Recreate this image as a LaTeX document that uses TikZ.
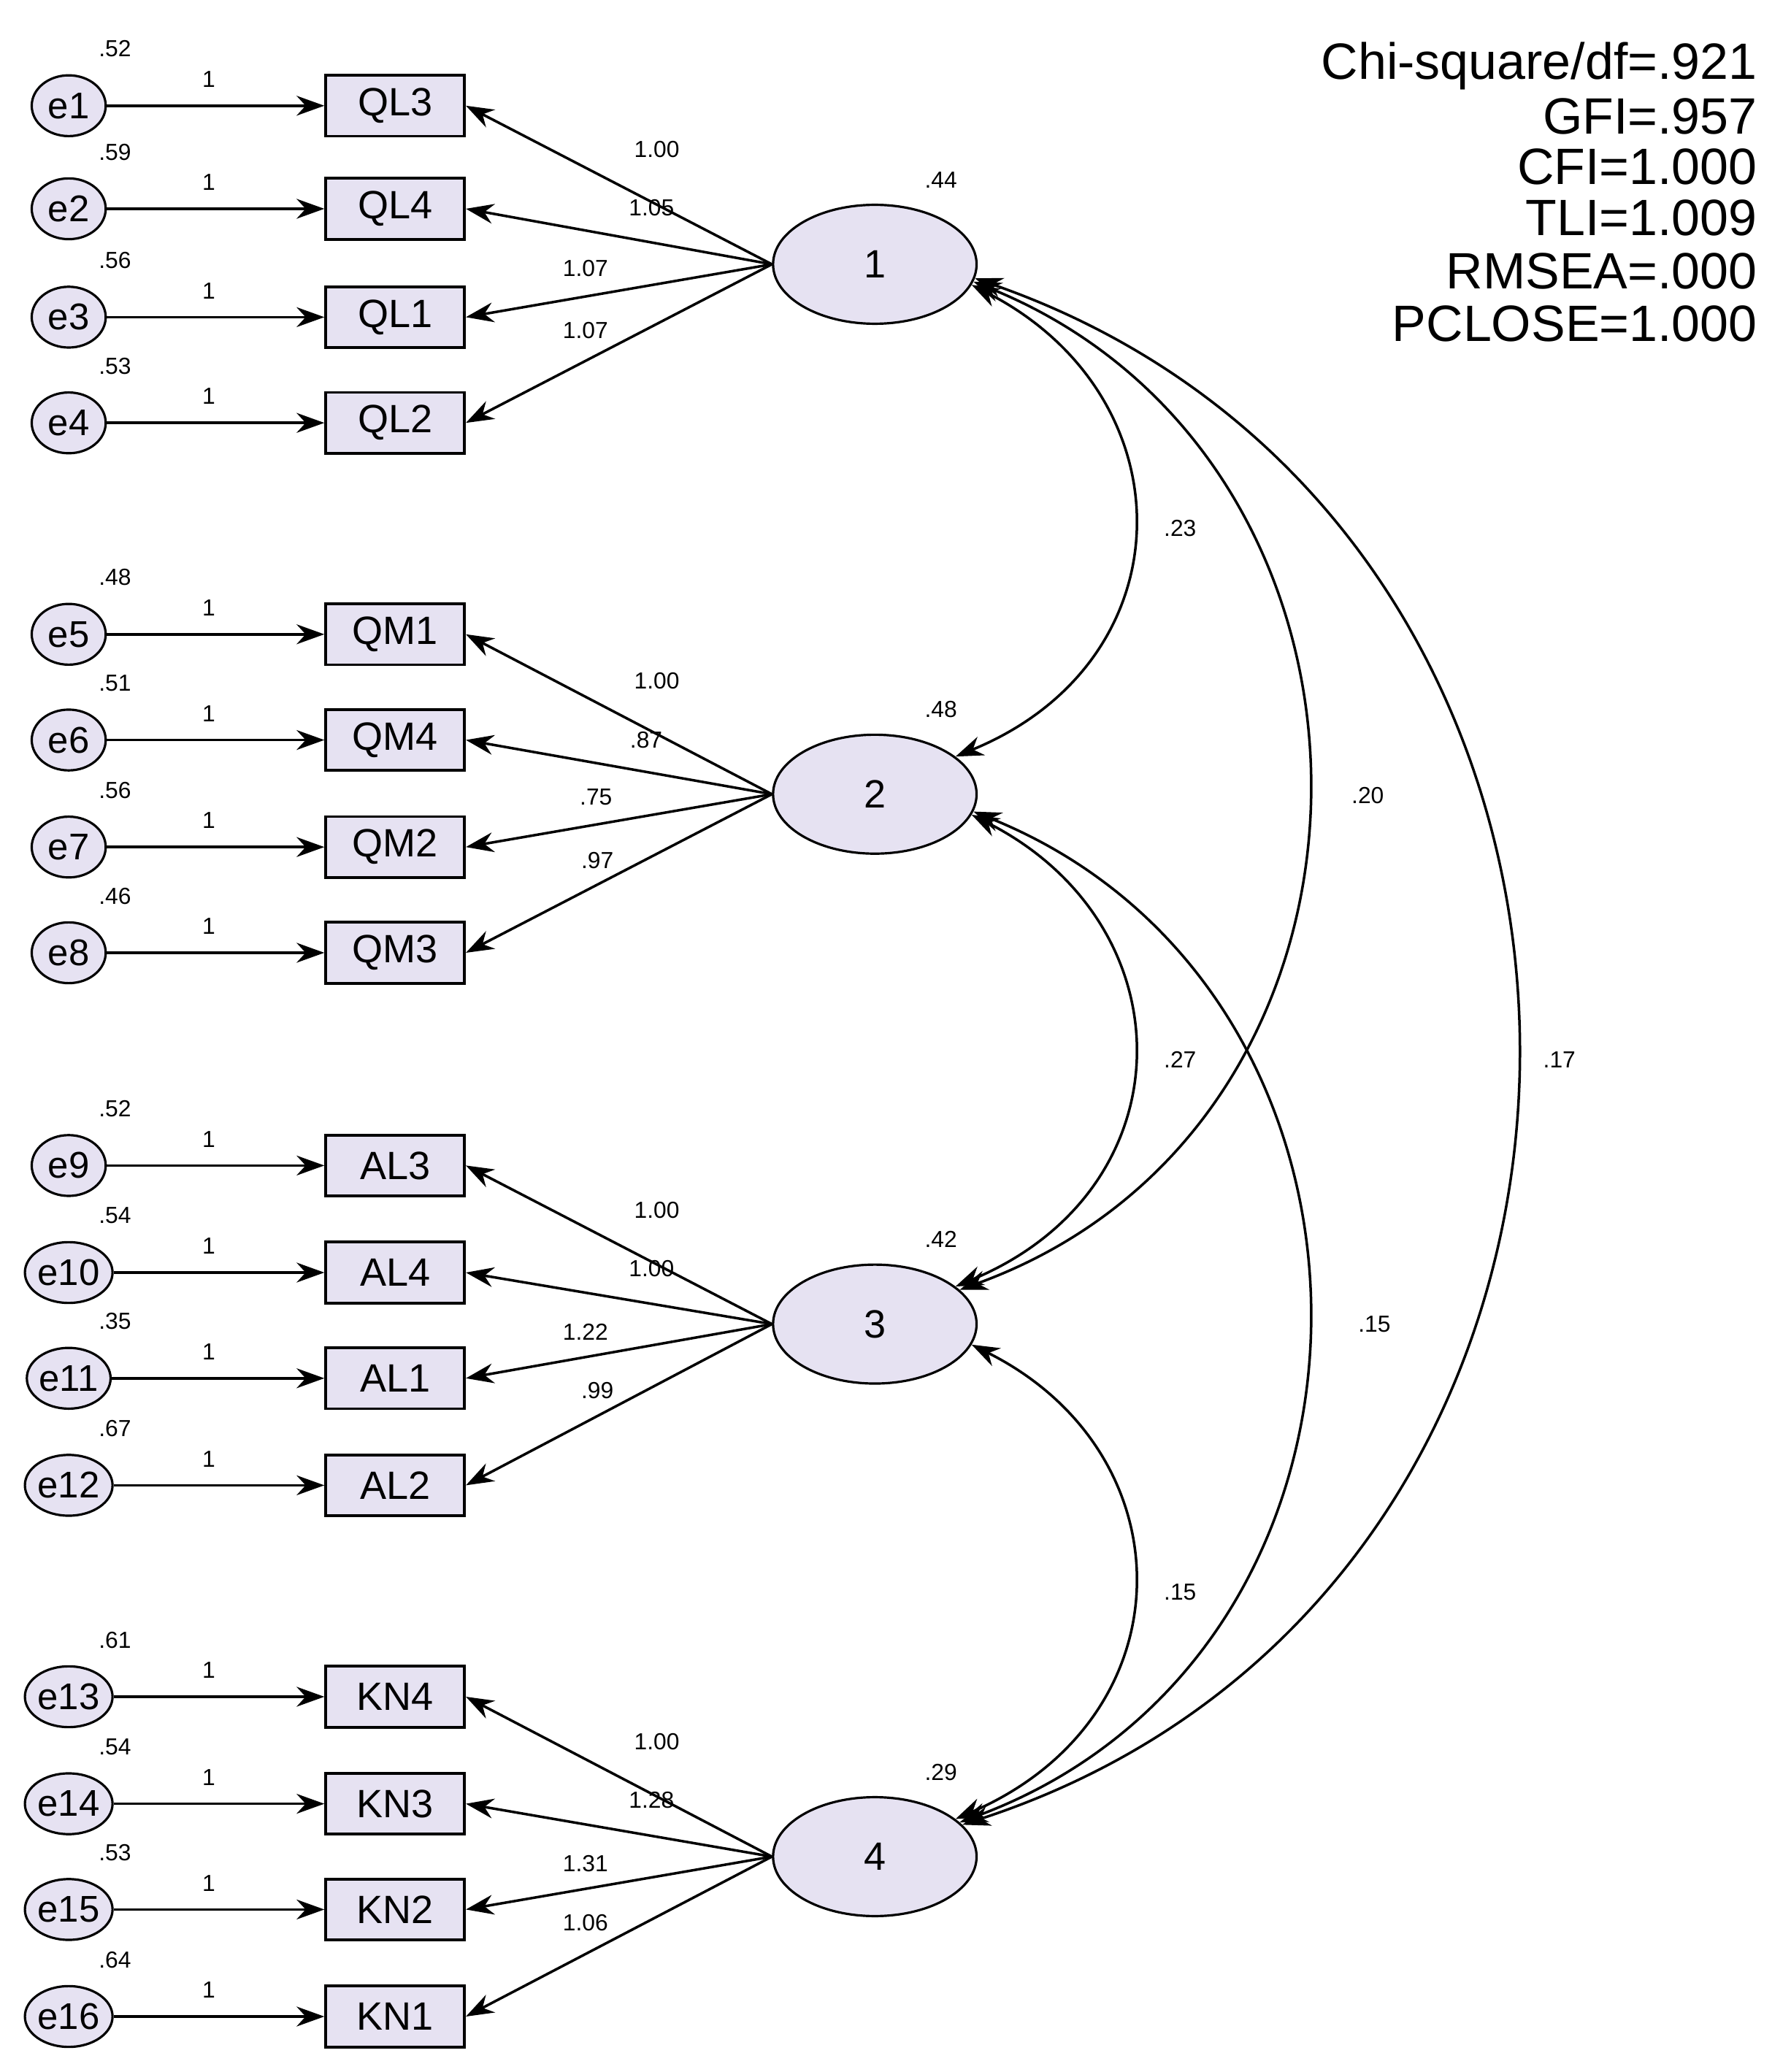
\documentclass[tikz,border=0pt]{standalone}
\usepackage{fontspec}
\setmainfont{Liberation Sans}
\usetikzlibrary{arrows.meta,shapes.geometric}
\definecolor{lav}{RGB}{230,226,242}
\begin{document}
\begin{tikzpicture}[x=0.02cm,y=-0.02cm,
  err/.style={ellipse,draw,fill=lav,line width=1pt,minimum width=56*0.02cm,minimum height=46*0.02cm,inner sep=0pt,font=\fontsize{16}{16}\selectfont},
  obs/.style={rectangle,draw,fill=lav,line width=1.2pt,minimum width=105*0.02cm,minimum height=46*0.02cm,inner sep=0pt,font=\fontsize{17}{17}\selectfont},
  lat/.style={ellipse,draw,fill=lav,line width=1pt,minimum width=154*0.02cm,minimum height=90*0.02cm,inner sep=0pt,font=\fontsize{17}{17}\selectfont},
  num/.style={font=\fontsize{10}{10}\selectfont,inner sep=0pt},
  fit/.style={font=\fontsize{22}{22}\selectfont,anchor=east,inner sep=0pt},
  arr/.style={line width=1.1pt,-{Stealth[length=0.42cm,width=0.3cm]}},
  cov/.style={line width=1.1pt,{Stealth[length=0.42cm,width=0.3cm]}-{Stealth[length=0.42cm,width=0.3cm]}}]
\useasboundingbox (0,0) rectangle (1355,1568);
% latent variables
\foreach \i/\y/\v in {1/200/.44,2/601/.48,3/1002/.42,4/1405/.29}{
  \node[lat] (l\i) at (662,\y) {\i};
  \node[num] (lv\i) at (712,\y-64) {\v};
}
% indicators
\foreach \k/\y/\o/\ev/\ld/\lx/\ly/\l in {
 1/80/QL3/.52/1.00/497/113/1, 2/158/QL4/.59/1.05/493/157/1, 3/240/QL1/.56/1.07/443/203/1, 4/320/QL2/.53/1.07/443/250/1,
 5/480/QM1/.48/1.00/497/515/2, 6/560/QM4/.51/.87/489/560/2, 7/641/QM2/.56/.75/451/603/2, 8/721/QM3/.46/.97/452/651/2,
 9/882/AL3/.52/1.00/497/916/3, 10/963/AL4/.54/1.00/493/960/3, 11/1043/AL1/.35/1.22/443/1008/3, 12/1124/AL2/.67/.99/452/1052/3,
 13/1284/KN4/.61/1.00/497/1318/4, 14/1365/KN3/.54/1.28/493/1362/4, 15/1445/KN2/.53/1.31/443/1410/4, 16/1526/KN1/.64/1.06/443/1455/4}{
  \node[err] (e\k) at (52,\y) {e\k};
  \node[obs] (o\k) at (299,\y) {\o};
  \node[num] (ev\k) at (87,\y-43) {\ev};
  \node[num] (w\k) at (158,\y-20) {1};
  \node[num] (ld\k) at (\lx,\ly) {\ld};
  \draw[arr] (e\k) -- (o\k);
  \draw[arr] (l\l.west) -- (o\k.east);
}
% covariances
\draw[cov] (l1.-12) .. controls (900,300) and (900,500) .. (l2.25);
\draw[cov] (l1.-10) .. controls (1075,350) and (1075,850) .. (l3.22);
\draw[cov] (l1.-8) .. controls (1285,400) and (1285,1200) .. (l4.20);
\draw[cov] (l2.-12) .. controls (900,700) and (900,900) .. (l3.25);
\draw[cov] (l2.-10) .. controls (1075,750) and (1075,1250) .. (l4.22);
\draw[cov] (l3.-12) .. controls (900,1100) and (900,1300) .. (l4.25);
\node[num] (c12) at (893,400) {.23};
\node[num] (c13) at (1035,602) {.20};
\node[num] (c14) at (1180,802) {.17};
\node[num] (c23) at (893,802) {.27};
\node[num] (c24) at (1040,1002) {.15};
\node[num] (c34) at (893,1205) {.15};
% fit indices
\node[fit] (f1) at (1330,50) {Chi-square/df=.921};
\node[fit] (f2) at (1330,88) {GFI=.957};
\node[fit] (f3) at (1330,126) {CFI=1.000};
\node[fit] (f4) at (1330,165) {TLI=1.009};
\node[fit] (f5) at (1330,205) {RMSEA=.000};
\node[fit] (f6) at (1330,245) {PCLOSE=1.000};
\end{tikzpicture}
\end{document}
